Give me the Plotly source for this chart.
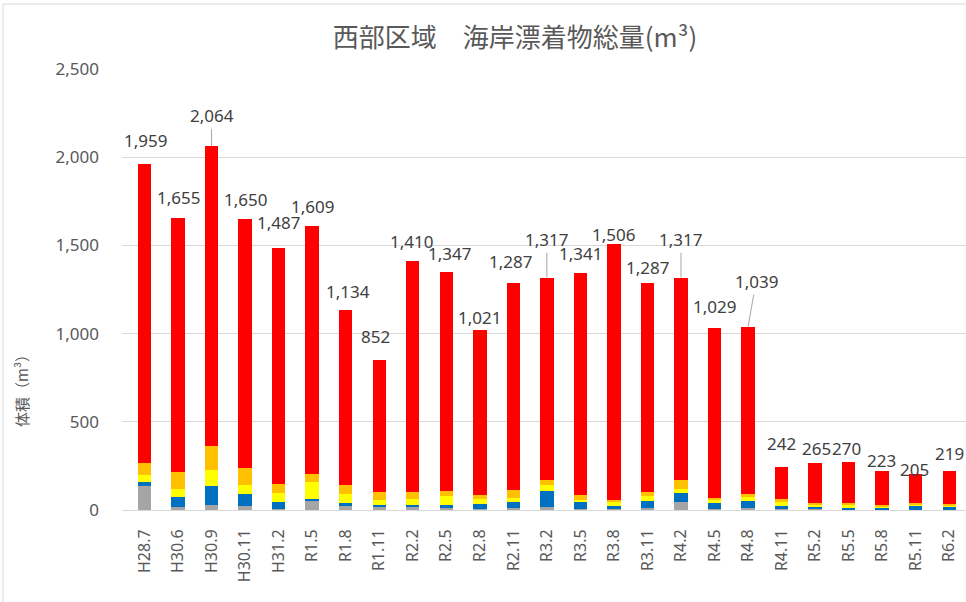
import plotly.graph_objects as go

# Survey periods (Heisei / Reiwa year.month)
periods = ["H28.7", "H30.6", "H30.9", "H30.11", "H31.2", "R1.5", "R1.8", "R1.11",
           "R2.2", "R2.5", "R2.8", "R2.11", "R3.2", "R3.5", "R3.8", "R3.11",
           "R4.2", "R4.5", "R4.8", "R4.11", "R5.2", "R5.5", "R5.8", "R5.11", "R6.2"]

# Volume per debris category (m3), stacked bottom to top
gray_vol = [138, 19, 30, 25, 5, 51, 26, 19, 17, 15, 3, 13, 17, 8, 8, 11,
            45, 4, 13, 8, 3, 3, 3, 2, 2]
blue_vol = [23, 53, 104, 64, 40, 13, 11, 8, 9, 11, 31, 32, 93, 36, 15, 38,
            51, 40, 38, 15, 17, 11, 9, 21, 17]
yellow_vol = [36, 49, 95, 53, 49, 93, 51, 32, 36, 53, 26, 25, 34, 15, 21, 30,
              23, 11, 26, 25, 9, 13, 9, 6, 8]
orange_vol = [68, 97, 136, 98, 53, 49, 51, 42, 42, 28, 25, 45, 28, 25, 15, 21,
              49, 15, 11, 13, 8, 15, 8, 9, 9]
red_vol = [1694, 1437, 1699, 1410, 1340, 1403, 995, 751, 1306, 1240, 936, 1172,
           1145, 1257, 1447, 1187, 1149, 959, 951, 181, 228, 228, 194, 167, 183]

series = [
    ("gray", gray_vol, "#A5A5A5"),
    ("blue", blue_vol, "#0070C0"),
    ("yellow", yellow_vol, "#FFFF00"),
    ("orange", orange_vol, "#FFC000"),
    ("red", red_vol, "#FF0000"),
]

totals = [sum(v) for v in zip(gray_vol, blue_vol, yellow_vol, orange_vol, red_vol)]

# Placement of each total label relative to the top of its bar (px), and leader lines
label_dx = [1, 0, 0, 0, 0, 0, 2, -4, -1, 3, 0, -3, 0, 0, 0, 0, 0, 0, 8, 0, 1, -2, -1, -1, 0]
label_dy = [24, 21, 30, 19, 25, 20, 18, 23, 20, 19, 12, 21, 38, 20, 10, 15, 38, 22, 45,
            24, 15, 14, 10, 4, 18]
leader = [False, False, True, False, False, False, False, False, False, False, False,
          False, True, False, False, False, True, False, True, False, False, False,
          False, False, False]

TEXT = "#595959"
LABEL = "#404040"
GRID = "#D9D9D9"
FONT = "Noto Sans, Noto Sans CJK JP, sans-serif"
CJK = "Noto Sans CJK JP, sans-serif"

# Plot area geometry (px)
L, R, T, B = 122, 0, 69, 92
W, H = 966, 602
pw, ph = W - L - R, H - T - B


def px_x(x):
    return (x - L) / pw


def px_y(y):
    return (H - B - y) / ph


fig = go.Figure()
for name, vals, color in series:
    fig.add_trace(go.Bar(x=periods, y=vals, name=name, marker_color=color,
                         marker_line_width=0, hoverinfo="y"))

annotations = []
for p, t, dx, dy, ld in zip(periods, totals, label_dx, label_dy, leader):
    text = f"{t:,}"
    if ld:
        annotations.append(dict(x=p, y=t, xref="x", yref="y", text=text,
                                showarrow=True, arrowhead=0, arrowwidth=1,
                                arrowcolor="#A6A6A6", ax=dx, ay=-dy, standoff=0,
                                font=dict(size=17, color=LABEL, family=FONT)))
    else:
        annotations.append(dict(x=p, y=t, xref="x", yref="y", text=text,
                                showarrow=False, xshift=dx, yshift=dy,
                                font=dict(size=17, color=LABEL, family=FONT)))

# Y axis title
annotations.append(dict(x=px_x(21), y=px_y(387), xref="paper", yref="paper",
                        text="体積（m³）", showarrow=False, textangle=-90,
                        xanchor="center", yanchor="middle",
                        font=dict(size=15, color=TEXT, family=CJK)))

# Light frame around the whole chart
shapes = [
    dict(type="line", xref="paper", yref="paper",
         x0=px_x(3), x1=px_x(3), y0=px_y(610), y1=px_y(4),
         line=dict(color="#D9D9D9", width=1)),
    dict(type="line", xref="paper", yref="paper",
         x0=px_x(3), x1=px_x(970), y0=px_y(4), y1=px_y(4),
         line=dict(color="#D9D9D9", width=1)),
]

fig.update_layout(
    barmode="stack",
    bargap=0.6,
    width=W, height=H,
    margin=dict(l=L, r=R, t=T, b=B, pad=0),
    paper_bgcolor="white",
    plot_bgcolor="white",
    showlegend=False,
    title=dict(text="西部区域　海岸漂着物総量(m³)", x=515 / W, xanchor="center",
               y=1 - 38 / H, yanchor="middle",
               font=dict(size=26, color=TEXT, family=CJK)),
    annotations=annotations,
    shapes=shapes,
    font=dict(family=FONT, color=TEXT),
)
fig.update_xaxes(
    type="category",
    tickangle=-90,
    tickfont=dict(size=16, color=TEXT, family=FONT),
    showgrid=False,
    showline=True, linecolor=GRID, linewidth=1,
    ticks="", ticklabelstandoff=12,
)
fig.update_yaxes(
    range=[0, 2500],
    dtick=500,
    tickformat=",d",
    tickfont=dict(size=17, color=TEXT, family=FONT),
    showgrid=True, gridcolor=GRID, gridwidth=1,
    zeroline=False,
    showline=False,
    ticks="", ticklabelstandoff=22,
)

fig.write_html("out.html")
